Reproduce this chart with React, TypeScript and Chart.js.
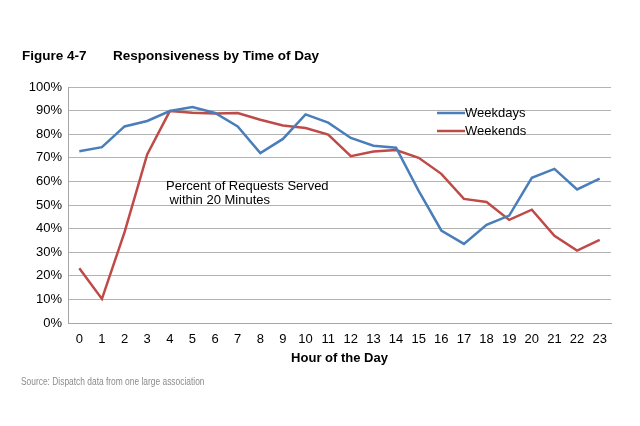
import React, { useEffect, useRef } from "react";
import { Chart, registerables } from "chart.js";

Chart.register(...registerables);

const hours = ["0","1","2","3","4","5","6","7","8","9","10","11","12","13","14","15","16","17","18","19","20","21","22","23"];
const weekdays = [72.8,74.5,83.3,85.6,89.8,91.5,89,83.3,72,78,88.4,84.9,78.4,75.1,74.3,56,39.2,33.5,41.6,45.5,61.5,65.3,56.6,61.2];
const weekends = [23.2,10.2,38.5,71.4,89.8,89.1,88.8,89,86.1,83.7,82.6,79.8,70.7,72.7,73.3,70,63.2,52.6,51.3,43.7,48,36.9,30.7,35.2];
const seriesNames = ["Weekdays", "Weekends"];
const colors = ["#4a7ebb", "#be4b48"];
const figureLabel = "Figure 4-7";
const titleText = "Responsiveness by Time of Day";
const xTitle = "Hour of the Day";
const noteLines = ["Percent of Requests Served", " within 20 Minutes"];
const sourceText = "Source: Dispatch data from one large association";

const FONT = "'Liberation Sans', Arial, sans-serif";

const decor = {
  id: "decor",
  afterDraw(chart: any) {
    const ctx = chart.ctx;
    ctx.save();
    ctx.fillStyle = "#000";
    ctx.textBaseline = "middle";
    ctx.textAlign = "left";
    ctx.font = `bold 13.5px ${FONT}`;
    ctx.fillText(figureLabel, 22, 56);
    ctx.fillText(titleText, 113, 56);

    ctx.save();
    ctx.font = `10px ${FONT}`;
    ctx.fillStyle = "#8c8c8c";
    ctx.translate(21, 382);
    ctx.scale(0.84, 1);
    ctx.fillText(sourceText, 0, 0);
    ctx.restore();

    ctx.fillStyle = "#000";
    ctx.font = `13px ${FONT}`;
    ctx.fillText(noteLines[0], 166, 186);
    ctx.fillText(noteLines[1], 166, 200);

    // legend
    const ly = [113, 131];
    for (let i = 0; i < 2; i++) {
      ctx.strokeStyle = colors[i];
      ctx.lineWidth = 2.5;
      ctx.beginPath();
      ctx.moveTo(437, ly[i]);
      ctx.lineTo(465, ly[i]);
      ctx.stroke();
      ctx.fillStyle = "#000";
      ctx.fillText(seriesNames[i], 465, ly[i]);
    }
    ctx.restore();
  },
};

export default function App() {
  const ref = useRef<HTMLCanvasElement>(null);
  useEffect(() => {
    if (!ref.current) return;
    const chart = new Chart(ref.current, {
      type: "line",
      data: {
        labels: hours,
        datasets: [
          { label: seriesNames[0], data: weekdays, borderColor: colors[0], backgroundColor: colors[0], borderWidth: 2.5, pointRadius: 0, tension: 0 },
          { label: seriesNames[1], data: weekends, borderColor: colors[1], backgroundColor: colors[1], borderWidth: 2.5, pointRadius: 0, tension: 0 },
        ],
      },
      options: {
        animation: false,
        responsive: false,
        events: [],
        layout: { padding: { top: 87, right: 29, bottom: 53, left: 0 } },
        plugins: { legend: { display: false }, tooltip: { enabled: false }, title: { display: false } },
        scales: {
          x: {
            offset: true,
            grid: { display: false, drawTicks: false },
            border: { display: true, color: "#a6a6a6", width: 1 },
            ticks: { color: "#000", font: { family: FONT, size: 13 }, padding: 9, maxRotation: 0, autoSkip: false },
            title: { display: true, text: xTitle, color: "#000", font: { family: FONT, size: 13, weight: "bold" }, padding: { top: 0, bottom: 7 } },
            afterFit(s: any) { s.height = 50; },
          },
          y: {
            min: 0,
            max: 100,
            ticks: { stepSize: 10, color: "#000", font: { family: FONT, size: 13 }, padding: 6, callback: (v: any) => v + "%" },
            grid: { color: "#b3b3b3", drawTicks: false, lineWidth: 1 },
            border: { display: true, color: "#a6a6a6" },
            afterFit(s: any) { s.width = 68; },
          },
        },
      },
      plugins: [decor],
    });
    return () => chart.destroy();
  }, []);
  return (
    <div style={{ position: "fixed", left: 0, top: 0, width: 640, height: 426, background: "#fff" }}>
      <canvas ref={ref} width={640} height={426} style={{ width: 640, height: 426 }} />
    </div>
  );
}
